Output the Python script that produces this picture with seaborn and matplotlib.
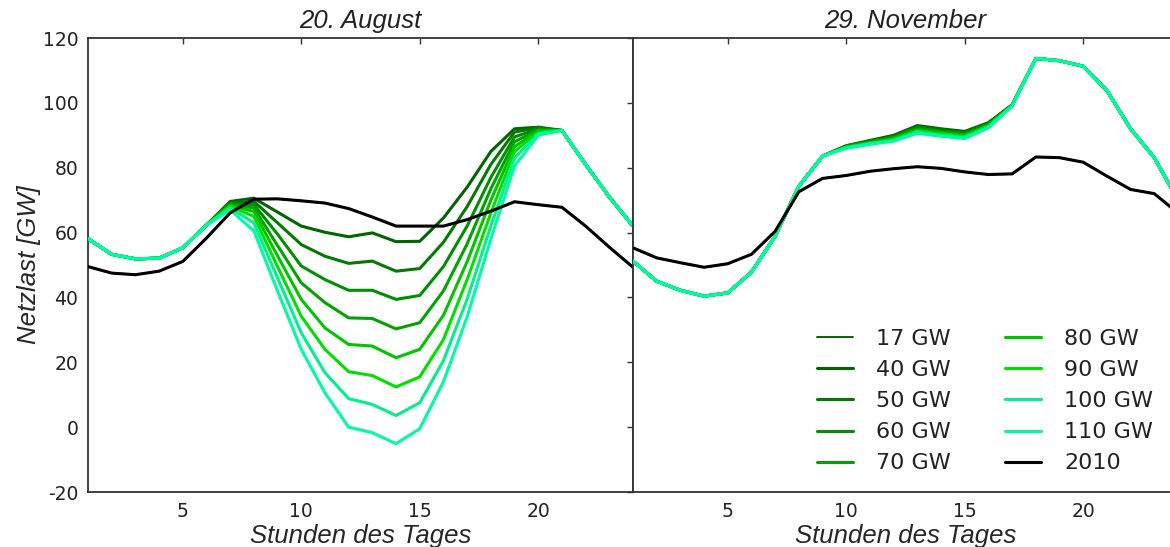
import matplotlib
matplotlib.use("Agg")
import matplotlib.pyplot as plt
import seaborn as sns
import pandas as pd

# ---------------- data ----------------
hours = list(range(1, 25))
series_labels = ["17 GW", "40 GW", "50 GW", "60 GW", "70 GW",
                 "80 GW", "90 GW", "100 GW", "110 GW"]
series_colors = ["#0c5e0c", "#006400", "#007a00", "#008f00", "#00a400",
                 "#00c400", "#00e000", "#00f08c", "#00fba4"]

# 20. August
aug_2010 = [49.5, 47.5, 47.0, 48.1, 51.1, 58.3, 66.1, 70.3, 70.4, 69.8, 69.1, 67.4,
            64.8, 62.0, 62.0, 62.0, 64.0, 66.6, 69.5, 68.6, 67.8, 62.0, 55.5, 49.3]
aug_17 = [49.5, 47.5, 47.0, 48.1, 51.1, 58.3, 66.1, 70.3, 70.4, 69.8, 69.1, 67.4,
          64.8, 62.0, 62.0, 62.0, 64.0, 66.6, 69.5, 68.6, 67.8, 62.0, 55.5, 49.3]
aug_40 = [58.1, 53.3, 51.9, 52.1, 55.3, 62.3, 69.6, 70.6, 66.3, 62.0, 60.1, 58.7,
          59.9, 57.2, 57.3, 64.5, 74.0, 85.0, 92.0, 92.5, 91.5, 81.0, 71.0, 62.0]
aug_50 = [58.1, 53.3, 51.9, 52.1, 55.3, 62.3, 69.3, 69.6, 63.0, 56.3, 52.7, 50.5,
          51.2, 48.1, 48.9, 57.0, 68.0, 81.0, 91.0, 92.3, 91.5, 81.0, 71.0, 62.0]
aug_60 = [58.1, 53.3, 51.9, 52.1, 55.3, 62.3, 69.0, 68.6, 59.5, 49.7, 45.5, 42.2,
          42.2, 39.4, 40.6, 49.5, 62.0, 77.0, 89.5, 92.0, 91.5, 81.0, 71.0, 62.0]
aug_70 = [58.1, 53.3, 51.9, 52.1, 55.3, 62.3, 68.7, 67.6, 56.0, 44.5, 38.4, 33.7,
          33.5, 30.3, 32.2, 42.0, 56.5, 73.5, 88.0, 91.7, 91.5, 81.0, 71.0, 62.0]
aug_80 = [58.1, 53.3, 51.9, 52.1, 55.3, 62.3, 68.4, 66.5, 52.8, 39.4, 30.6, 25.5,
          25.0, 21.4, 24.0, 34.5, 51.0, 70.0, 86.5, 91.3, 91.5, 81.0, 71.0, 62.0]
aug_90 = [58.1, 53.3, 51.9, 52.1, 55.3, 62.3, 68.1, 65.0, 49.5, 34.2, 24.0, 17.1,
          15.9, 12.4, 15.5, 27.0, 45.5, 66.0, 85.0, 91.0, 91.5, 81.0, 71.0, 62.0]
aug_100 = [58.1, 53.3, 51.9, 52.1, 55.3, 62.3, 67.6, 63.0, 46.0, 29.1, 16.8, 8.8,
           7.0, 3.6, 7.5, 20.5, 39.5, 62.0, 83.0, 90.5, 91.5, 81.0, 71.0, 62.0]
aug_110 = [58.1, 53.3, 51.9, 52.1, 55.3, 62.3, 67.0, 60.5, 42.0, 24.0, 10.6, 0.0,
           -1.7, -5.1, -0.5, 14.0, 34.0, 58.0, 80.5, 90.0, 91.5, 81.0, 71.0, 62.0]

# 29. November
nov_2010 = [55.3, 52.2, 50.7, 49.3, 50.4, 53.3, 60.4, 72.6, 76.7, 77.6, 78.9, 79.7,
            80.3, 79.8, 78.7, 77.9, 78.1, 83.3, 83.1, 81.7, 77.4, 73.3, 72.0, 66.0]
nov_17 = [55.3, 52.2, 50.7, 49.3, 50.4, 53.3, 60.4, 72.6, 76.7, 77.6, 78.9, 79.7,
          80.3, 79.8, 78.7, 77.9, 78.1, 83.3, 83.1, 81.7, 77.4, 73.3, 72.0, 66.0]
nov_40 = [51.2, 45.0, 42.2, 40.4, 41.4, 47.8, 58.9, 74.3, 83.6, 86.8, 88.4, 90.0,
          93.0, 92.0, 91.2, 93.9, 99.4, 113.7, 113.0, 111.3, 103.8, 92.0, 83.1, 70.0]
nov_50 = [51.2, 45.0, 42.2, 40.4, 41.4, 47.8, 58.9, 74.3, 83.6, 86.7, 88.2, 89.7,
          92.7, 91.7, 90.9, 93.7, 99.3, 113.7, 113.0, 111.3, 103.8, 92.0, 83.1, 70.0]
nov_60 = [51.2, 45.0, 42.2, 40.4, 41.4, 47.8, 58.9, 74.3, 83.6, 86.6, 88.0, 89.4,
          92.3, 91.3, 90.5, 93.5, 99.3, 113.7, 113.0, 111.3, 103.8, 92.0, 83.1, 70.0]
nov_70 = [51.2, 45.0, 42.2, 40.4, 41.4, 47.8, 58.9, 74.3, 83.6, 86.5, 87.9, 89.2,
          91.9, 91.0, 90.2, 93.2, 99.2, 113.7, 113.0, 111.3, 103.8, 92.0, 83.1, 70.0]
nov_80 = [51.2, 45.0, 42.2, 40.4, 41.4, 47.8, 58.9, 74.3, 83.6, 86.4, 87.7, 88.9,
          91.6, 90.7, 89.9, 93.0, 99.2, 113.7, 113.0, 111.3, 103.8, 92.0, 83.1, 70.0]
nov_90 = [51.2, 45.0, 42.2, 40.4, 41.4, 47.8, 58.9, 74.3, 83.6, 86.3, 87.5, 88.7,
          91.3, 90.4, 89.6, 92.8, 99.1, 113.7, 113.0, 111.3, 103.8, 92.0, 83.1, 70.0]
nov_100 = [51.2, 45.0, 42.2, 40.4, 41.4, 47.8, 58.9, 74.3, 83.6, 86.2, 87.4, 88.4,
           91.0, 90.0, 89.3, 92.6, 99.0, 113.7, 113.0, 111.3, 103.8, 92.0, 83.1, 70.0]
nov_110 = [51.2, 45.0, 42.2, 40.4, 41.4, 47.8, 58.9, 74.3, 83.6, 86.0, 87.2, 88.2,
           90.6, 89.7, 89.0, 92.3, 99.0, 113.7, 113.0, 111.3, 103.8, 92.0, 83.1, 70.0]

panel_titles = ["20. August", "29. November"]
x_label = "Stunden des Tages"
y_label = "Netzlast [GW]"
x_ticks = [5, 10, 15, 20]
y_ticks = [-20, 0, 20, 40, 60, 80, 100, 120]

aug_series = [aug_17, aug_40, aug_50, aug_60, aug_70, aug_80, aug_90, aug_100, aug_110]
nov_series = [nov_17, nov_40, nov_50, nov_60, nov_70, nov_80, nov_90, nov_100, nov_110]

# ---------------- style ----------------
sns.set_theme(style="white")
plt.rcParams["font.family"] = ["DejaVu Sans"]
plt.rcParams["axes.unicode_minus"] = False
plt.rcParams["text.color"] = "#222222"

W, H = 1170, 547
fig = plt.figure(figsize=(W / 100, H / 100), dpi=100)
ax1 = fig.add_axes([88 / W, 55 / H, 545 / W, 454 / H])
ax2 = fig.add_axes([633 / W, 55 / H, 545 / W, 454 / H], sharey=ax1)

label_font = dict(family="Liberation Sans", style="italic", size=18.5)

for ax, series, base, title in [(ax1, aug_series, aug_2010, panel_titles[0]),
                                (ax2, nov_series, nov_2010, panel_titles[1])]:
    for i, (vals, lab, col) in enumerate(zip(series, series_labels, series_colors)):
        df = pd.DataFrame({"Stunde": hours, "Last": vals})
        sns.lineplot(data=df, x="Stunde", y="Last", ax=ax, color=col,
                     linewidth=1.4 if i == 0 else 2.2, label=lab, zorder=2 + i)
    df = pd.DataFrame({"Stunde": hours, "Last": base})
    sns.lineplot(data=df, x="Stunde", y="Last", ax=ax, color="black",
                 linewidth=2.2, label="2010", zorder=20)
    ax.set_xlim(1, 24)
    ax.set_ylim(-20, 120)
    ax.set_xticks(x_ticks)
    ax.set_yticks(y_ticks)
    ax.tick_params(direction="in", length=4, width=1, top=True, right=True,
                   labelsize=13.5, pad=7, colors="#333333")
    ax.tick_params(axis="both", labelcolor="#222222")
    for sp in ax.spines.values():
        sp.set_visible(True)
        sp.set_color("#333333")
        sp.set_linewidth(1.3)
    ax.set_title(title, fontdict=label_font, pad=7)
    ax.set_xlabel(x_label, fontdict=label_font, labelpad=2)
    ax.set_ylabel("")
    ax.get_legend().remove()

ax1.set_ylabel(y_label, fontdict=label_font, labelpad=1)
ax2.tick_params(axis="y", labelleft=False)

handles, labels = ax2.get_legend_handles_labels()
fig.legend(handles, labels, ncol=2, frameon=False, fontsize=16,
           loc="upper left", bbox_to_anchor=(817 / W, 1 - 329 / H),
           borderpad=0, borderaxespad=0, handlelength=1.6, handletextpad=1.05,
           columnspacing=2.45, labelspacing=0.5)

fig.savefig("out.png", dpi=100)
